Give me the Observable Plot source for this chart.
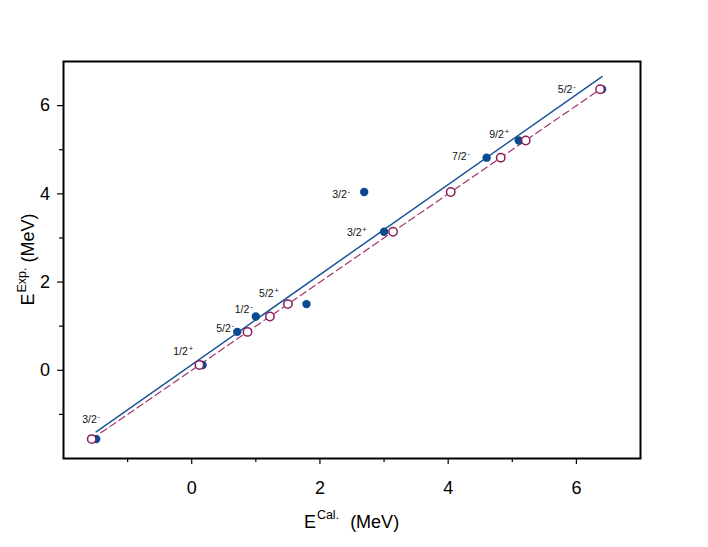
<!DOCTYPE html>
<html>
<head>
<meta charset="utf-8">
<script src="https://cdn.jsdelivr.net/npm/d3@7"></script>
<script src="https://cdn.jsdelivr.net/npm/@observablehq/plot@0.6"></script>
<style>
  html, body { margin: 0; padding: 0; background: white; }
</style>
</head>
<body>
<div id="chart"></div>
<script>
// Calculated vs experimental energies (MeV)
const calc = [-1.49, 0.17, 0.71, 1.00, 1.79, 2.69, 3.00, 4.60, 5.10, 6.40];
const expt = [-1.56, 0.12, 0.87, 1.22, 1.50, 4.04, 3.14, 4.82, 5.21, 6.37];
// Spin / parity labels
const spins  = ["3/2", "1/2", "5/2", "1/2", "5/2", "3/2", "3/2", "7/2", "9/2", "5/2"];
const parity = ["-", "+", "-", "-", "+", "-", "+", "-", "+", "-"];
// Label anchor positions (data units, right end of text)
const labelX = [-1.43, 0.02, 0.66, 0.95, 1.36, 2.47, 2.73, 4.34, 4.95, 5.99];
const labelY = [-1.11, 0.42, 0.95, 1.37, 1.73, 3.975, 3.12, 4.84, 5.34, 6.36];
// Tick values
const majorTicks = [0, 2, 4, 6];
const minorTicks = [-1, 1, 3, 5];

const points = calc.map((c, i) => ({
  calc: c, exp: expt[i], spin: spins[i], parity: parity[i], lx: labelX[i], ly: labelY[i]
}));
const diag = points.slice().sort((a, b) => a.exp - b.exp);

const blue = "#0a4a8f";
const lineBlue = "#1a5597";
const maroon = "#8c1d58";
const dashColor = "#a2306c";

const chart = Plot.plot({
  width: 708,
  height: 547,
  marginLeft: 63,
  marginRight: 68,
  marginTop: 61,
  marginBottom: 89,
  style: { fontFamily: "'Liberation Sans', Arial, sans-serif", background: "white", color: "black" },
  x: { domain: [-2, 7] },
  y: { domain: [-2, 7] },
  marks: [
    Plot.axisX(majorTicks, { tickSize: 6, tickPadding: 17, fontSize: 18, label: null, strokeWidth: 1.2 }),
    Plot.axisX(minorTicks, { tickSize: 4, tickFormat: () => "", label: null, strokeWidth: 1.2 }),
    Plot.axisY(majorTicks, { tickSize: 6, tickPadding: 7.5, fontSize: 18, label: null, strokeWidth: 1.2 }),
    Plot.axisY(minorTicks, { tickSize: 4, tickFormat: () => "", label: null, strokeWidth: 1.2 }),
    Plot.frame({ stroke: "black", strokeWidth: 2 }),
    Plot.line(diag, { x: "exp", y: "exp", stroke: dashColor, strokeWidth: 1.2, strokeDasharray: "7,4" }),
    Plot.linearRegressionY(points, { x: "calc", y: "exp", stroke: lineBlue, strokeWidth: 1.5, ci: 0 }),
    Plot.dot(points, { x: "calc", y: "exp", r: 4.2, fill: blue }),
    Plot.dot(points, { x: "exp", y: "exp", r: 4.2, stroke: maroon, fill: "white", strokeWidth: 1.5 }),
    Plot.text(points, {
      x: "lx", y: "ly", text: d => d.spin + d.parity, textAnchor: "end",
      fontSize: 10.5, fill: "#111"
    })
  ]
});

document.getElementById("chart").appendChild(chart);

// Superscript parity signs
chart.querySelectorAll("text").forEach(t => {
  const s = t.textContent;
  if (!/^\d\/\d[+-]$/.test(s)) return;
  const base = s.slice(0, -1), sup = s.slice(-1);
  t.textContent = base;
  const ts = document.createElementNS("http://www.w3.org/2000/svg", "tspan");
  ts.setAttribute("dy", "-4");
  ts.setAttribute("dx", "0.8");
  ts.setAttribute("font-size", "7.5");
  ts.textContent = sup;
  t.appendChild(ts);
});

// Axis titles with superscripts
const svg = d3.select(chart);
const cx = (63 + (708 - 68)) / 2;
const cy = (61 + (547 - 89)) / 2;

const xt = svg.append("text")
  .attr("x", cx).attr("y", 527.7)
  .attr("text-anchor", "middle")
  .attr("font-size", 18)
  .attr("fill", "black");
xt.append("tspan").text("E");
xt.append("tspan").attr("dy", -8.4).attr("dx", 1).attr("font-size", 12.5).text("Cal.");
xt.append("tspan").attr("dy", 8.4).attr("dx", 11).text("(MeV)");

const yt = svg.append("text")
  .attr("transform", `translate(34,${cy}) rotate(-90)`)
  .attr("text-anchor", "middle")
  .attr("font-size", 18)
  .attr("fill", "black");
yt.append("tspan").text("E");
yt.append("tspan").attr("dy", -8.4).attr("dx", 1).attr("font-size", 12.5).text("Exp.");
yt.append("tspan").attr("dy", 8.4).attr("dx", 5).text("(MeV)");
</script>
</body>
</html>
